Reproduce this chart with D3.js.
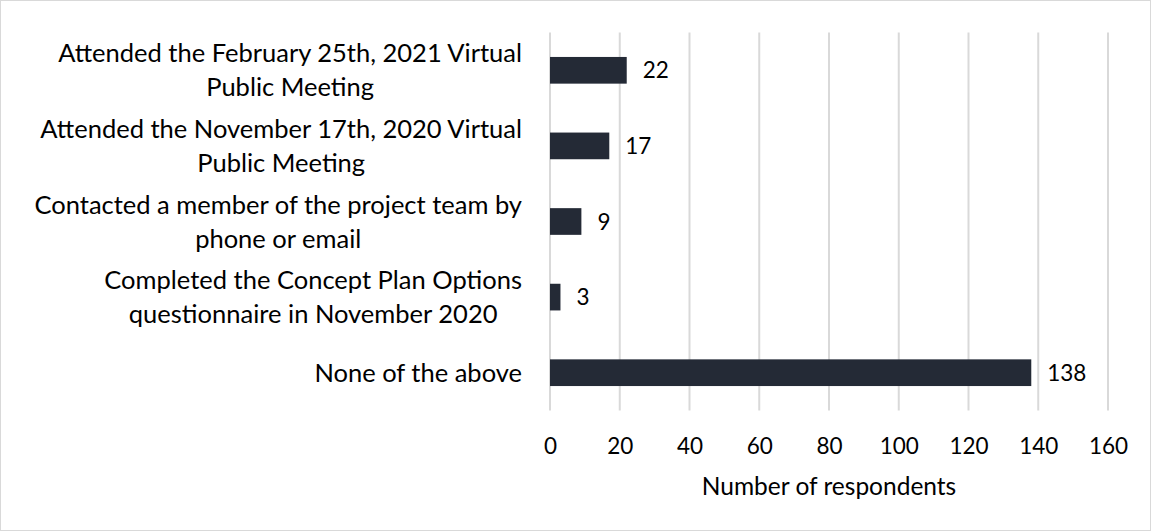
<!DOCTYPE html>
<html>
<head>
<meta charset="utf-8">
<script src="https://d3js.org/d3.v7.min.js"></script>
<style>
  body { margin: 0; background: #fff; }
  svg { display: block; font-family: Lato, 'Liberation Sans', sans-serif; }
  .grid line { stroke: #d9d9d9; stroke-width: 2px; }
  .tick text { fill: #000; }
</style>
</head>
<body>
<svg id="chart" width="1151" height="531"></svg>
<script>
// category labels (line breaks where the original wraps)
var categories = [
  "Attended the February 25th, 2021 Virtual\nPublic Meeting",
  "Attended the November 17th, 2020 Virtual\nPublic Meeting",
  "Contacted a member of the project team by\nphone or email",
  "Completed the Concept Plan Options\nquestionnaire in November 2020",
  "None of the above"
];
var values = [22, 17, 9, 3, 138];
var xTicks = [0, 20, 40, 60, 80, 100, 120, 140, 160];
var xTitle = "Number of respondents";

var svg = d3.select("#chart");
var labelSize = 25.5,   // category labels
    numSize = 22.5,     // tick + value labels
    titleSize = 24.5;

// chart border
svg.append("rect")
  .attr("x", 0.5).attr("y", 0.5)
  .attr("width", 1150).attr("height", 530)
  .attr("fill", "#fff")
  .attr("stroke", "#d9d9d9")
  .attr("stroke-width", 1);

var x = d3.scaleLinear().domain([0, 160]).range([550, 1108]);
var y = d3.scaleBand().domain(categories).range([32.5, 410.5]).paddingInner(0.647).paddingOuter(0.3235);

// vertical gridlines
svg.append("g").attr("class", "grid")
  .selectAll("line").data(xTicks).join("line")
  .attr("x1", function(d) { return x(d); })
  .attr("x2", function(d) { return x(d); })
  .attr("y1", 32.5).attr("y2", 410.5);

// bars
svg.append("g").selectAll("rect").data(values).join("rect")
  .attr("x", x(0))
  .attr("y", function(d, i) { return y(categories[i]); })
  .attr("width", function(d) { return x(d) - x(0); })
  .attr("height", y.bandwidth())
  .attr("fill", "#242a36");

// value labels
svg.append("g").selectAll("text").data(values).join("text")
  .text(function(d) { return d; })
  .attr("x", function(d) { return x(d) + 16; })
  .attr("y", function(d, i) { return y(categories[i]) + y.bandwidth() / 2; })
  .attr("dy", "0.36em")
  .style("font-size", numSize + "px")
  .attr("fill", "#000");

// x axis (labels only)
var xAxis = d3.axisBottom(x).tickValues(xTicks).tickSize(0).tickPadding(0);
var axisG = svg.append("g")
  .attr("transform", "translate(0,446)")
  .call(xAxis);
axisG.select(".domain").remove();
axisG.selectAll("text")
  .attr("dy", "0.36em")
  .style("font-size", numSize + "px")
  .style("font-family", "Lato, 'Liberation Sans', sans-serif");

svg.append("text")
  .text(xTitle)
  .attr("x", (x(0) + x(160)) / 2)
  .attr("y", 486)
  .attr("dy", "0.36em")
  .attr("text-anchor", "middle")
  .style("font-size", titleSize + "px")
  .attr("fill", "#000");

// category labels: lines centred on each other, block right-aligned
var lineH = 34;
categories.forEach(function(c) {
  var lines = c.split("\n");
  var g = svg.append("g");
  var t = g.append("text")
    .attr("text-anchor", "middle")
    .style("font-size", labelSize + "px")
    .attr("fill", "#000");
  var cy = y(c) + y.bandwidth() / 2;
  lines.forEach(function(l, k) {
    t.append("tspan")
      .attr("x", 0)
      .attr("y", cy + (k - (lines.length - 1) / 2) * lineH)
      .attr("dy", "0.36em")
      .text(l);
  });
  var bb = t.node().getBBox();
  g.attr("transform", "translate(" + (522 - (bb.x + bb.width)) + ",0)");
});
</script>
</body>
</html>
